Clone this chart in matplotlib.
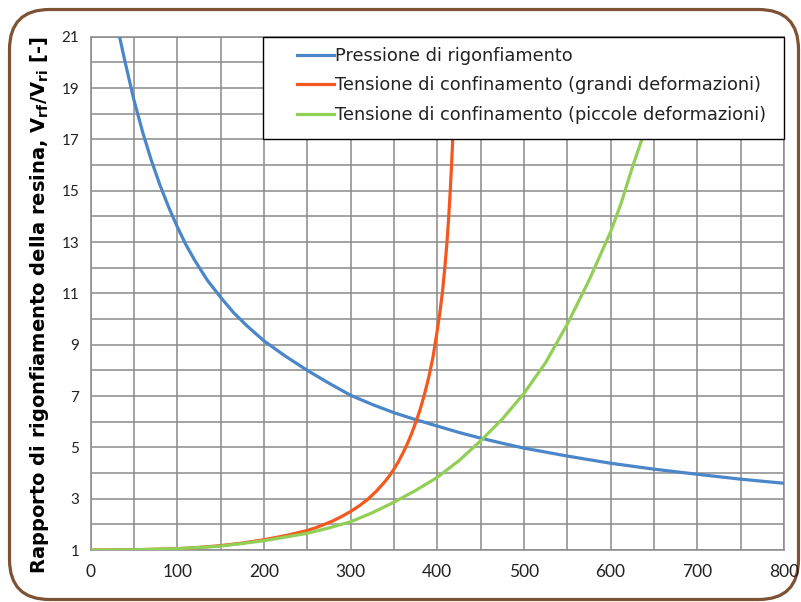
import matplotlib
matplotlib.use("Agg")
import matplotlib.pyplot as plt
from matplotlib.patches import FancyBboxPatch, Rectangle
from matplotlib.ticker import MultipleLocator

plt.rcParams['font.family'] = ['Lato', 'DejaVu Sans']

# pressione di rigonfiamento
x_press = [33.5, 40, 50, 60, 70, 80, 90, 100, 110, 120, 135, 150, 165, 180,
           200, 225, 250, 275, 300, 325, 350, 375, 400, 425, 450, 475, 500,
           550, 600, 650, 700, 750, 800]
y_press = [21, 20.0, 18.55, 17.3, 16.2, 15.23, 14.37, 13.6, 12.9, 12.3, 11.5, 10.85, 10.25, 9.75,
           9.15, 8.55, 8.0, 7.5, 7.03, 6.67, 6.35, 6.08, 5.83, 5.58, 5.36, 5.16, 4.97,
           4.66, 4.38, 4.15, 3.95, 3.76, 3.6]

# tensione di confinamento (grandi deformazioni)
x_grandi = [0, 50, 100, 125, 150, 175, 200, 225, 250, 260, 270, 280, 290, 300, 310,
            320, 330, 340, 345, 350, 355, 360, 365, 370, 375, 380, 385, 390, 395,
            400, 403, 406, 409, 411, 413, 415, 416.5, 418, 419.5]
y_grandi = [1.0, 1.01, 1.05, 1.1, 1.17, 1.27, 1.4, 1.56, 1.76, 1.87, 2.0, 2.14, 2.31, 2.5, 2.72,
            2.98, 3.3, 3.68, 3.9, 4.15, 4.43, 4.75, 5.1, 5.5, 5.95, 6.45, 7.03, 7.7, 8.5,
            9.55, 10.25, 11.05, 12.1, 12.9, 13.85, 15.0, 16.0, 17.1, 18.3]

# tensione di confinamento (piccole deformazioni)
x_piccole = [0, 50, 100, 150, 200, 250, 275, 300, 325, 350, 375, 400, 425, 450,
             475, 500, 525, 550, 575, 600, 612, 625, 638]
y_piccole = [1.0, 1.01, 1.05, 1.15, 1.36, 1.65, 1.86, 2.1, 2.45, 2.86, 3.32, 3.83, 4.48, 5.25,
             6.1, 7.1, 8.3, 9.8, 11.5, 13.4, 14.5, 15.9, 17.2]

labels = ["Pressione di rigonfiamento",
          "Tensione di confinamento (grandi deformazioni)",
          "Tensione di confinamento (piccole deformazioni)"]
colors = ["#4a86c8", "#f4581f", "#92cf57"]

W, H = 801, 602
fig = plt.figure(figsize=(W / 100, H / 100), dpi=100)

# rounded frame around the whole chart
bg = fig.add_axes([0, 0, 1, 1], zorder=0)
bg.set_xlim(0, W)
bg.set_ylim(H, 0)
bg.axis("off")
bg.add_patch(FancyBboxPatch((9.5, 9.5), 789, 590, boxstyle="round,pad=0,rounding_size=40",
                            facecolor="white", edgecolor="#7d5235", linewidth=2.3))

ax_l, ax_r, ax_t, ax_b = 90.5, 784, 36.7, 550
aw, ah = ax_r - ax_l, ax_b - ax_t
ax = fig.add_axes([ax_l / W, 1 - ax_b / H, aw / W, ah / H], zorder=1)
ax.set_facecolor("none")

ax.plot(x_press, y_press, color=colors[0], lw=2.3, label=labels[0], zorder=3)
ax.plot(x_grandi, y_grandi, color=colors[1], lw=2.3, label=labels[1], zorder=3)
ax.plot(x_piccole, y_piccole, color=colors[2], lw=2.3, label=labels[2], zorder=3)

ax.set_xlim(0, 800)
ax.set_ylim(1, 21)
ax.set_xticks(range(0, 801, 100))
ax.xaxis.set_minor_locator(MultipleLocator(50))
ax.set_yticks(range(1, 22, 2))
ax.yaxis.set_minor_locator(MultipleLocator(1))
ax.grid(which="both", color="#8a8a8a", linewidth=1.1)
ax.set_axisbelow(True)
for s in ax.spines.values():
    s.set_color("#8a8a8a")
    s.set_linewidth(1.1)
ax.tick_params(which="both", length=0)
ax.tick_params(axis="x", labelsize=12.5, pad=10, colors="#222222")
ax.tick_params(axis="y", labelsize=11, pad=8, colors="#222222")

# legend box (white, black edge) with the entries placed inside it
lx0 = (263 - ax_l) / aw
ly0 = (ax_b - 139.3) / ah
ax.add_patch(Rectangle((lx0, ly0), 1 - lx0, 1 - ly0, transform=ax.transAxes,
                       facecolor="white", edgecolor="black", linewidth=1.0,
                       zorder=4, clip_on=False))
leg = ax.legend(loc="upper left", bbox_to_anchor=((297 - ax_l) / aw, (ax_b - 47) / ah),
                borderaxespad=0, borderpad=0, frameon=False,
                prop={"family": "DejaVu Sans", "size": 12.8},
                handlelength=2.1, handletextpad=0.05, labelspacing=0.64)
leg.set_zorder(5)
for t in leg.get_texts():
    t.set_color("#222222")

fig.text(40 / W, 1 - 305 / H,
         r"Rapporto di rigonfiamento della resina, V$_\mathregular{rf}$/V$_\mathregular{ri}$ [-]",
         rotation=90, ha="center", va="center", fontsize=14, fontweight="bold",
         family="DejaVu Sans")

fig.savefig("out.png", dpi=100)
